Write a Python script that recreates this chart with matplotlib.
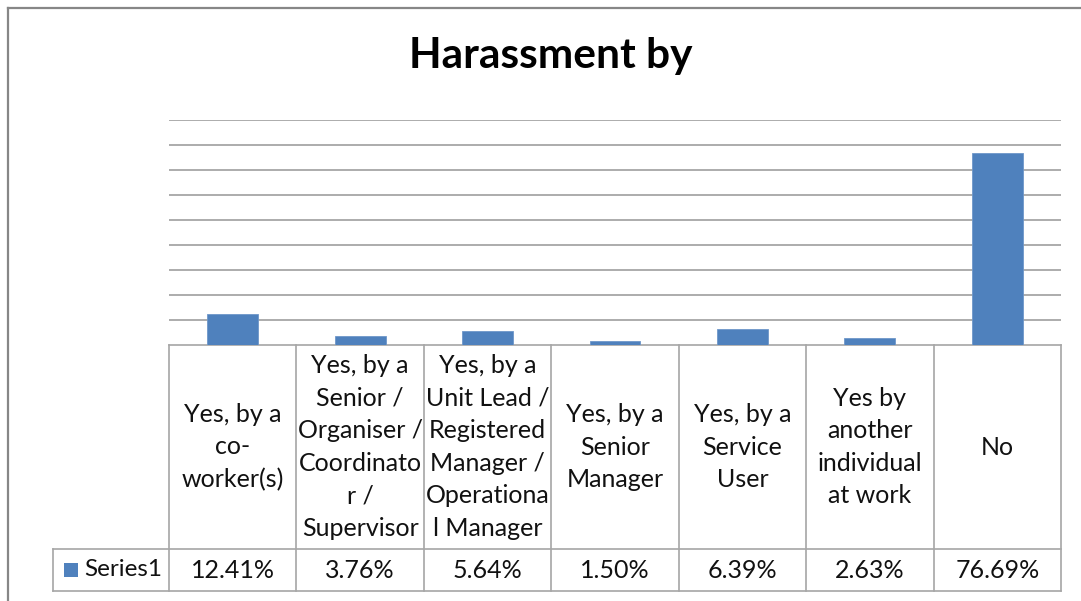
"""Harassment by: column chart with an attached data table."""

import matplotlib
import numpy as np

matplotlib.use("Agg")
import matplotlib.pyplot as plt  # noqa: E402
from matplotlib.lines import Line2D  # noqa: E402
from matplotlib.patches import Rectangle  # noqa: E402
from matplotlib.transforms import blended_transform_factory  # noqa: E402

categories = [
    "Yes, by a\nco-\nworker(s)",
    "Yes, by a\nSenior /\nOrganiser /\nCoordinato\nr /\nSupervisor",
    "Yes, by a\nUnit Lead /\nRegistered\nManager /\nOperationa\nl Manager",
    "Yes, by a\nSenior\nManager",
    "Yes, by a\nService\nUser",
    "Yes by\nanother\nindividual\nat work",
    "No",
]
values = [12.41, 3.76, 5.64, 1.50, 6.39, 2.63, 76.69]
series_name = "Series1"
y_ticks = np.arange(10, 100, 10)

BLUE = "#4f81bd"
GRID = "#a6a6a6"
FONT = "Lato"

W, H = 1081, 601
fig = plt.figure(figsize=(W / 100, H / 100), dpi=100)

# outer chart frame (only top and left edges are in view)
fig.add_artist(Line2D([8 / W, 8 / W], [0, 1 - 8 / H], color="#878787", lw=1.6))
fig.add_artist(Line2D([8 / W, 1], [1 - 8 / H, 1 - 8 / H], color="#878787", lw=1.6))

left, right, top, base = 169, 1061, 120, 345
ax = fig.add_axes([left / W, 1 - base / H, (right - left) / W, (base - top) / H])
x = np.arange(len(values))
ax.bar(x, values, width=0.4, color=BLUE, edgecolor="#6f97c9", linewidth=0.6, zorder=3)
ax.set_xlim(-0.5, len(values) - 0.5)
ax.set_ylim(0, 90)
for t in y_ticks:
    ax.axhline(t, color=GRID, lw=1.3, zorder=1)
for s in ax.spines.values():
    s.set_visible(False)
ax.set_xticks([])
ax.set_yticks([])

fig.text(551 / W, 1 - 68 / H, "Harassment by", ha="center", va="baseline",
         fontsize=30.5, fontweight="bold", family=FONT)

# data table below the plot: x in category units, y in axes fraction
tr = blended_transform_factory(ax.transData, ax.transAxes)
unit = (base - top)
cat_px = (right - left) / len(values)
head_bot = -(549 - base) / unit
val_bot = -(591 - base) / unit
col_left = -0.5 - (left - 53) / cat_px

line_kw = dict(color=GRID, lw=1.2, transform=tr, clip_on=False)
ax.plot([-0.5, len(values) - 0.5], [0, 0], **line_kw)
ax.plot([col_left, len(values) - 0.5], [head_bot, head_bot], **line_kw)
ax.plot([col_left, len(values) - 0.5], [val_bot, val_bot], **line_kw)
ax.plot([col_left, col_left], [head_bot, val_bot], **line_kw)
for edge in np.arange(len(values) + 1) - 0.5:
    ax.plot([edge, edge], [0, val_bot], **line_kw)

txt_kw = dict(ha="center", va="center", fontsize=18, family=FONT,
              color="#111111", transform=tr, clip_on=False)
for i, (label, v) in enumerate(zip(categories, values)):
    ax.text(i, head_bot / 2, label, linespacing=1.5, **txt_kw)
    ax.text(i, (head_bot + val_bot) / 2, f"{v:.2f}%", **txt_kw)

# legend key in the series-name cell
mid = (head_bot + val_bot) / 2
key = 14
ax.add_patch(Rectangle((col_left + 10.5 / cat_px, mid - key / 2 / unit), key / cat_px, key / unit,
                       facecolor=BLUE, transform=tr, clip_on=False))
ax.text(col_left + 31 / cat_px, mid, series_name, ha="left", va="center", fontsize=17.5,
        family=FONT, color="#111111", transform=tr, clip_on=False)

fig.savefig("out.png", dpi=100)
